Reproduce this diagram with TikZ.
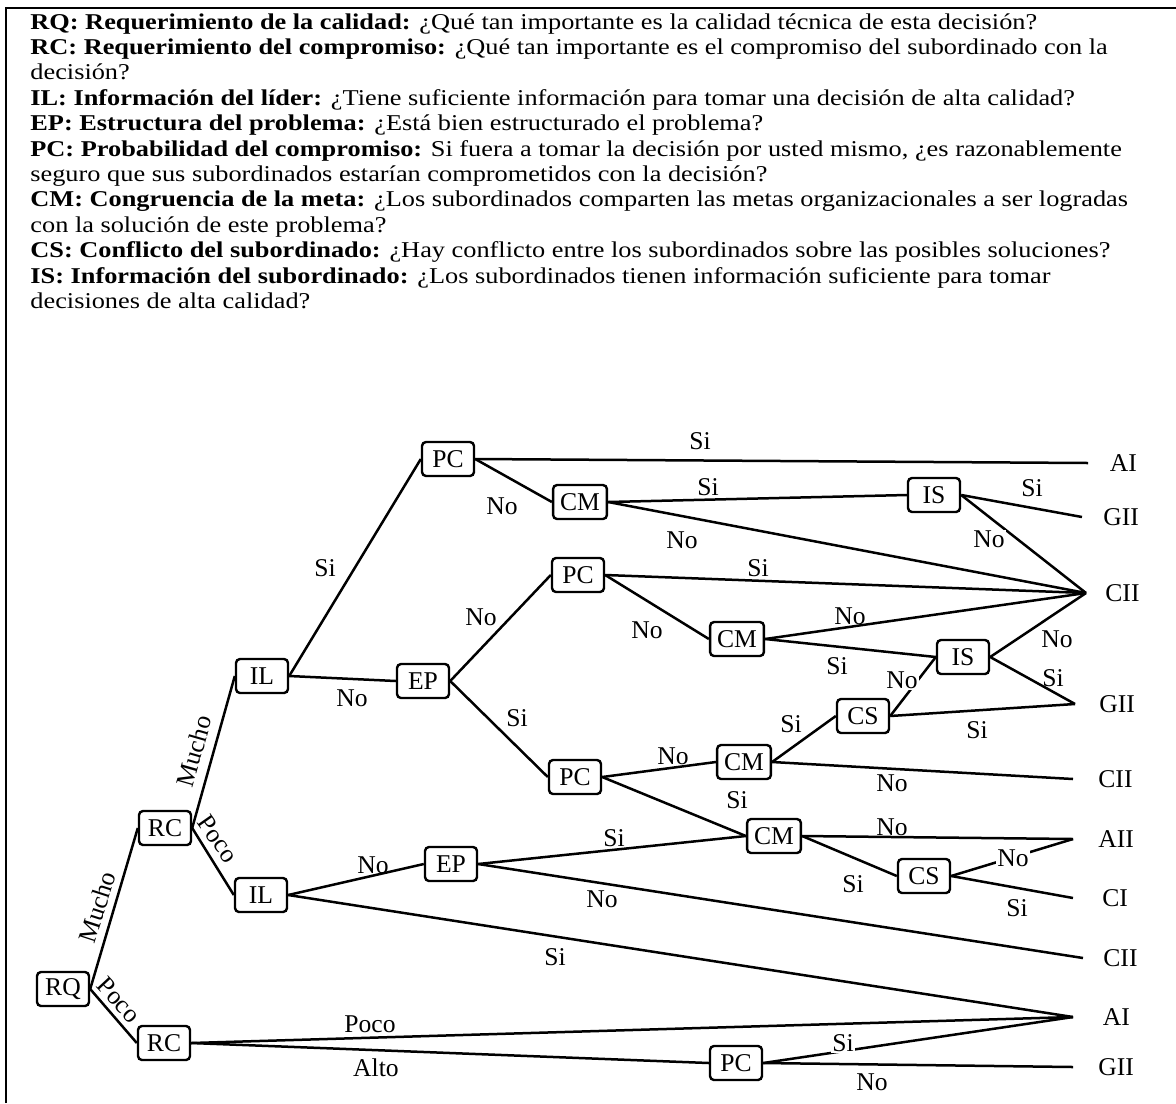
\documentclass[tikz,border=0pt]{standalone}
\usepackage{graphicx}
\usepackage{fontspec}
\setmainfont{Liberation Serif}
\newcommand\legendfont{\fontsize{11.3}{12.7}\selectfont}
\newcommand\diagfont{\fontsize{12.8}{12.7}\selectfont}
\newcommand\wideline[1]{\scalebox{1.165}[1]{#1}}
\begin{document}
\begin{tikzpicture}[x=0.5pt,y=-0.5pt,
  txt/.style={anchor=base west, inner sep=0pt, font=\legendfont},
  box/.style={draw, line width=1.2pt, rounded corners=2pt, minimum width=26pt,
    minimum height=17pt, inner xsep=3.5pt, inner ysep=1pt, font=\diagfont},
  outcome/.style={anchor=west, inner ysep=0pt, inner xsep=#1, font=\diagfont},
  conn/.style={line width=1.25pt},
  lbl/.style={inner sep=0.5pt, font=\diagfont},
  lblw/.style={lbl, fill=white}]
\useasboundingbox (0,0) rectangle (1176,1103);

% frame
\draw[line width=1pt] (6,1103) -- (6,8) -- (1176,8);

% legend
\node[txt] (q1)  at (30,29)    {\wideline{\textbf{RQ: Requerimiento de la calidad:} ¿Qué tan importante es la calidad técnica de esta decisión?}};
\node[txt] (q2)  at (30,54.4)  {\wideline{\textbf{RC: Requerimiento del compromiso:} ¿Qué tan importante es el compromiso del subordinado con la}};
\node[txt] (q3)  at (30,79.8)  {\wideline{decisión?}};
\node[txt] (q4)  at (30,105.2) {\wideline{\textbf{IL: Información del líder:} ¿Tiene suficiente información para tomar una decisión de alta calidad?}};
\node[txt] (q5)  at (30,130.6) {\wideline{\textbf{EP: Estructura del problema:} ¿Está bien estructurado el problema?}};
\node[txt] (q6)  at (30,156)   {\wideline{\textbf{PC: Probabilidad del compromiso:} Si fuera a tomar la decisión por usted mismo, ¿es razonablemente}};
\node[txt] (q7)  at (30,181.4) {\wideline{seguro que sus subordinados estarían comprometidos con la decisión?}};
\node[txt] (q8)  at (30,206.8) {\wideline{\textbf{CM: Congruencia de la meta:} ¿Los subordinados comparten las metas organizacionales a ser logradas}};
\node[txt] (q9)  at (30,232.2) {\wideline{con la solución de este problema?}};
\node[txt] (q10) at (30,257.6) {\wideline{\textbf{CS: Conflicto del subordinado:} ¿Hay conflicto entre los subordinados sobre las posibles soluciones?}};
\node[txt] (q11) at (30,283)   {\wideline{\textbf{IS: Información del subordinado:} ¿Los subordinados tienen información suficiente para tomar}};
\node[txt] (q12) at (30,308.4) {\wideline{decisiones de alta calidad?}};

% decision boxes
\node[box] (RQ)  at (63,989)   {RQ};
\node[box] (RC1) at (165,828)  {RC};
\node[box] (RC2) at (164,1043) {RC};
\node[box] (IL1) at (262,676)  {IL};
\node[box] (IL2) at (261,895)  {IL};
\node[box] (EP1) at (423,681)  {EP};
\node[box] (EP2) at (451,864)  {EP};
\node[box] (PC1) at (448,459)  {PC};
\node[box] (CM1) at (580,502)  {CM};
\node[box] (PC2) at (578,575)  {PC};
\node[box] (CM2) at (737,639)  {CM};
\node[box] (IS1) at (934,495)  {IS};
\node[box] (IS2) at (963,657)  {IS};
\node[box] (CS1) at (863,716)  {CS};
\node[box] (PC3) at (575,777)  {PC};
\node[box] (CM3) at (744,762)  {CM};
\node[box] (CM4) at (774,836)  {CM};
\node[box] (CS2) at (924,876)  {CS};
\node[box] (PC4) at (736,1063) {PC};

% outcomes
\node[outcome=10.75pt] (oAI1)  at (1088,463)  {AI};
\node[outcome=10.5pt]  (oGII1) at (1082,517)  {GII};
\node[outcome=9.5pt]   (oCII1) at (1086,593)  {CII};
\node[outcome=12pt]    (oGII2) at (1075,704)  {GII};
\node[outcome=12.5pt]  (oCII2) at (1073,779)  {CII};
\node[outcome=12.5pt]  (oAII)  at (1073,839)  {AII};
\node[outcome=14.5pt]  (oCI)   at (1073,898)  {CI};
\node[outcome=10pt]    (oCII3) at (1083,958)  {CII};
\node[outcome=14.75pt] (oAI2)  at (1073,1017) {AI};
\node[outcome=12.5pt]  (oGII3) at (1073,1067) {GII};

% connectors
\draw[conn] (RQ.east) -- (RC1.west);
\draw[conn] (RQ.east) -- (RC2.west);
\draw[conn] (RC1.east) -- (IL1.west);
\draw[conn] (RC1.east) -- (IL2.west);
\draw[conn] (IL1.east) -- (PC1.west);
\draw[conn] (IL1.east) -- (EP1.west);
\draw[conn] (PC1.east) -- (oAI1.west);
\draw[conn] (PC1.east) -- (CM1.west);
\draw[conn] (CM1.east) -- (IS1.west);
\draw[conn] (CM1.east) -- (oCII1.west);
\draw[conn] (IS1.east) -- (oGII1.west);
\draw[conn] (IS1.east) -- (oCII1.west);
\draw[conn] (EP1.east) -- (PC2.west);
\draw[conn] (EP1.east) -- (PC3.west);
\draw[conn] (PC2.east) -- (oCII1.west);
\draw[conn] (PC2.east) -- (CM2.west);
\draw[conn] (CM2.east) -- (oCII1.west);
\draw[conn] (CM2.east) -- (IS2.west);
\draw[conn] (IS2.east) -- (oCII1.west);
\draw[conn] (IS2.east) -- (oGII2.west);
\draw[conn] (PC3.east) -- (CM3.west);
\draw[conn] (PC3.east) -- (CM4.west);
\draw[conn] (CM3.east) -- (CS1.west);
\draw[conn] (CM3.east) -- (oCII2.west);
\draw[conn] (CS1.east) -- (IS2.west);
\draw[conn] (CS1.east) -- (oGII2.west);
\draw[conn] (IL2.east) -- (EP2.west);
\draw[conn] (IL2.east) -- (oAI2.west);
\draw[conn] (EP2.east) -- (CM4.west);
\draw[conn] (EP2.east) -- (oCII3.west);
\draw[conn] (CM4.east) -- (oAII.west);
\draw[conn] (CM4.east) -- (CS2.west);
\draw[conn] (CS2.east) -- (oAII.west);
\draw[conn] (CS2.east) -- (oCI.west);
\draw[conn] (RC2.east) -- (oAI2.west);
\draw[conn] (RC2.east) -- (PC4.west);
\draw[conn] (PC4.east) -- (oAI2.west);
\draw[conn] (PC4.east) -- (oGII3.west);

% branch labels
\node[lbl, rotate=72]  (b1)  at (97,907)   {Mucho};
\node[lbl, rotate=-47] (b2)  at (119,1000) {Poco};
\node[lbl, rotate=74]  (b3)  at (194,751)  {Mucho};
\node[lbl, rotate=-55] (b4)  at (218,839)  {Poco};
\node[lbl]  (b5)  at (325,568)  {Si};
\node[lbl]  (b6)  at (352,698)  {No};
\node[lbl]  (b7)  at (700,441)  {Si};
\node[lbl]  (b8)  at (502,506)  {No};
\node[lbl]  (b9)  at (708,487)  {Si};
\node[lbl]  (b10) at (682,540)  {No};
\node[lbl]  (b11) at (1032,488) {Si};
\node[lblw] (b12) at (989,539)  {No};
\node[lbl]  (b13) at (481,617)  {No};
\node[lbl]  (b14) at (517,718)  {Si};
\node[lbl]  (b15) at (758,568)  {Si};
\node[lbl]  (b16) at (647,630)  {No};
\node[lbl]  (b17) at (850,616)  {No};
\node[lbl]  (b18) at (837,666)  {Si};
\node[lbl]  (b19) at (1057,639) {No};
\node[lbl]  (b20) at (1053,678) {Si};
\node[lbl]  (b21) at (673,756)  {No};
\node[lbl]  (b22) at (737,800)  {Si};
\node[lbl]  (b23) at (791,724)  {Si};
\node[lbl]  (b24) at (892,783)  {No};
\node[lblw] (b25) at (902,680)  {No};
\node[lbl]  (b26) at (977,730)  {Si};
\node[lbl]  (b27) at (614,838)  {Si};
\node[lbl]  (b28) at (602,899)  {No};
\node[lbl]  (b29) at (373,865)  {No};
\node[lbl]  (b30) at (555,957)  {Si};
\node[lbl]  (b31) at (892,827)  {No};
\node[lbl]  (b32) at (853,884)  {Si};
\node[lblw] (b33) at (1013,858) {No};
\node[lbl]  (b34) at (1017,908) {Si};
\node[lbl]  (b35) at (370,1024) {Poco};
\node[lbl]  (b36) at (376,1068) {Alto};
\node[lblw] (b37) at (843,1043) {Si};
\node[lbl]  (b38) at (872,1082) {No};
\end{tikzpicture}
\end{document}
